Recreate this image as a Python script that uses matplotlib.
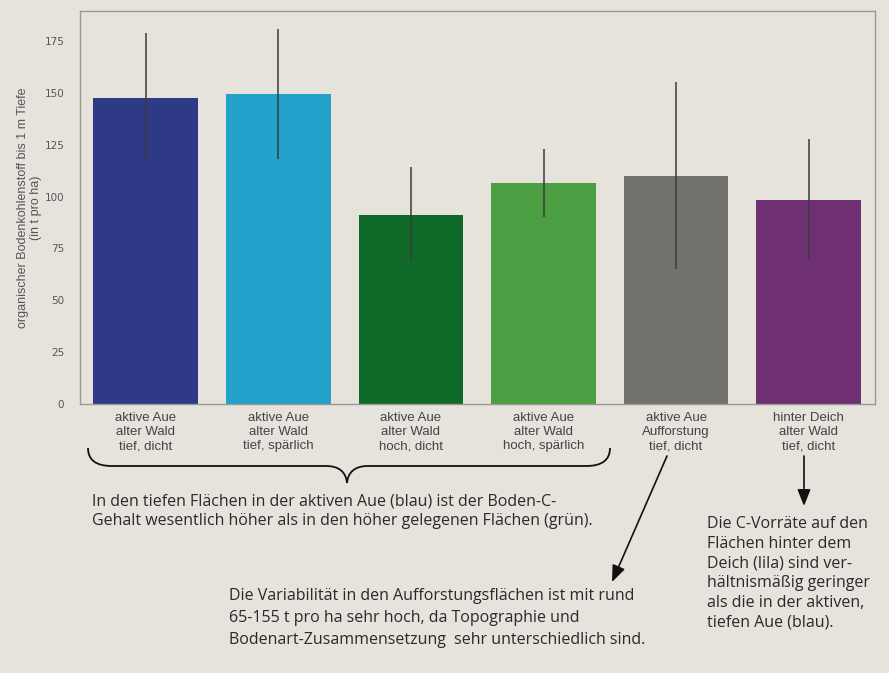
import numpy as np
import matplotlib
matplotlib.use("Agg")
import matplotlib.pyplot as plt
from matplotlib.path import Path
from matplotlib.patches import PathPatch, FancyArrowPatch

# ----------------- data -----------------
labels = ["aktive Aue\nalter Wald\ntief, dicht",
          "aktive Aue\nalter Wald\ntief, spärlich",
          "aktive Aue\nalter Wald\nhoch, dicht",
          "aktive Aue\nalter Wald\nhoch, spärlich",
          "aktive Aue\nAufforstung\ntief, dicht",
          "hinter Deich\nalter Wald\ntief, dicht"]
means = [147.5, 149.5, 91.0, 106.5, 110.0, 98.5]
err_lo = [116, 118, 69, 90, 65, 69]
err_hi = [179, 181, 114.5, 123, 155.5, 128]
colors = ["#2e3a86", "#22a2ca", "#0f6a2a", "#4b9e41", "#72716c", "#6e3073"]
yticks = [0, 25, 50, 75, 100, 125, 150, 175]

note_blue = ("In den tiefen Flächen in der aktiven Aue (blau) ist der Boden-C-\n"
             "Gehalt wesentlich höher als in den höher gelegenen Flächen (grün).")
note_auff = ("Die Variabilität in den Aufforstungsflächen ist mit rund\n"
             "65-155 t pro ha sehr hoch, da Topographie und\n"
             "Bodenart-Zusammensetzung  sehr unterschiedlich sind.")
note_deich = ("Die C-Vorräte auf den\nFlächen hinter dem\nDeich (lila) sind ver-\n"
              "hältnismäßig geringer\nals die in der aktiven,\ntiefen Aue (blau).")

BG = "#e6e2dc"
W, H = 889, 673

def px(x, y):
    # pixel position (top-left origin) -> figure fraction
    return x / W, 1 - y / H

fig = plt.figure(figsize=(W / 100, H / 100), dpi=100, facecolor=BG)
ax = fig.add_axes([79.5 / W, 1 - 404 / H, (875 - 79.5) / W, (404 - 11) / H], facecolor=BG)

x = np.arange(len(means))
m = np.array(means)
ax.bar(x, m, width=0.79, color=colors, zorder=2)
ax.errorbar(x, m, yerr=[m - np.array(err_lo), np.array(err_hi) - m], fmt="none",
            ecolor="#3c3c3c", elinewidth=1.3, capsize=0, alpha=0.85, zorder=3)

ax.set_xlim(-0.5, 5.5)
ax.set_ylim(0, 189.5)
ax.set_yticks(yticks)
ax.set_xticks(x)
ax.set_xticklabels(labels, fontsize=9.5, color="#444444", family="Liberation Sans", linespacing=1.22)
ax.tick_params(axis="y", length=0, pad=11, labelsize=7.5, labelcolor="#555555")
ax.tick_params(axis="x", length=0, pad=6)
for s in ax.spines.values():
    s.set_color("#9a9894")
    s.set_linewidth(1.0)
ax.set_ylabel("organischer Bodenkohlenstoff bis 1 m Tiefe\n(in t pro ha)", fontsize=9,
              color="#555555", family="Liberation Sans", linespacing=1.1)
ax.yaxis.set_label_coords(-0.047, 0.499)

# ----------------- annotations -----------------
def fpath(points, codes):
    return Path([px(*p) for p in points], codes)

brace_pts = [(88, 448), (88, 460), (96, 466), (112, 466),
             (326, 466), (339, 466), (346, 472), (347, 483),
             (348, 472), (355, 466), (368, 466),
             (586, 466), (602, 466), (610, 460), (610, 448)]
brace_codes = [Path.MOVETO, Path.CURVE4, Path.CURVE4, Path.CURVE4,
               Path.LINETO, Path.CURVE4, Path.CURVE4, Path.CURVE4,
               Path.CURVE4, Path.CURVE4, Path.CURVE4,
               Path.LINETO, Path.CURVE4, Path.CURVE4, Path.CURVE4]
fig.patches.append(PathPatch(fpath(brace_pts, brace_codes), transform=fig.transFigure,
                             fill=False, edgecolor="#111111", lw=1.3))

for (x0, y0), (x1, y1) in [((667, 456), (612, 582)), ((804, 456), (804, 506))]:
    fig.patches.append(FancyArrowPatch(px(x0, y0), px(x1, y1), transform=fig.transFigure,
                                       arrowstyle="-|>,head_length=10,head_width=4",
                                       color="#111111", lw=1.2, shrinkA=0, shrinkB=0))

tkw = dict(fontsize=11.5, color="#2a2a2a", family="Open Sans", va="top", ha="left")
fig.text(*px(92, 493), note_blue, linespacing=1.31, **tkw)
fig.text(*px(229, 588), note_auff, linespacing=1.5, **tkw)
fig.text(*px(707, 516), note_deich, linespacing=1.31, **tkw)

fig.savefig("out.png", dpi=100, facecolor=BG)
